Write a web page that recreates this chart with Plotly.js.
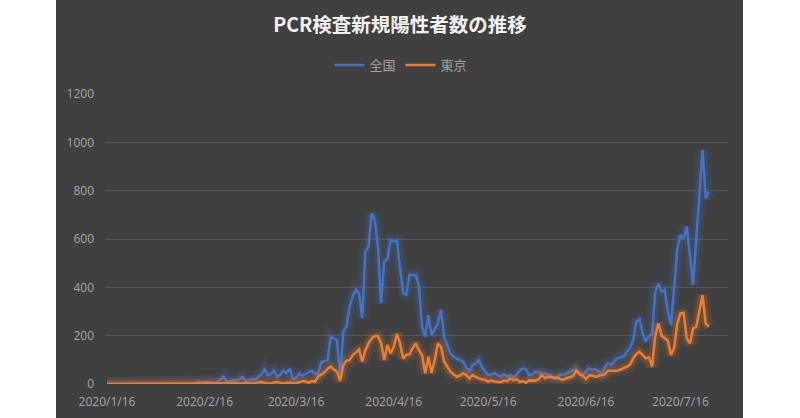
<!DOCTYPE html>
<html>
<head>
<meta charset="utf-8">
<script src="https://cdn.plot.ly/plotly-3.0.1.min.js"></script>
<style>html,body{margin:0;padding:0;background:#fff;}#chart{width:800px;height:418px;}</style>
</head>
<body>
<div id="chart"></div>
<script>
// Daily series starting 2020-01-16
const startDate = '2020-01-16';
const seriesNames = ['全国', '東京'];
const nationwide = [
  1,0,0,0,0,0,0,1, 1,1,0,1,1,2,3, 3,1,0,0,1,0,0, 0,1,0,0,1,0,3,
  8,6,6,8,5,4,10, 20,30,12,10,16,14,20,28,12,
  14,20,16,30,40,61,38,40,55,30,40,55,45,63,20,
  25,44,35,41,50,55,42,44,90,95,100,196,190,180,25,
  217,240,320,365,389,375,272,547,568,706,679,568,334,506,517,
  596,589,593,480,375,370,451,451,451,405,237,196,285,202,230,
  251,306,196,160,127,113,104,99,92,70,51,79,85,99,70,
  51,37,40,44,37,31,40,31,37,28,40,55,65,60,37,
  40,51,48,40,44,38,35,25,30,40,38,45,52,58,58,
  45,37,50,65,58,62,52,44,70,86,80,95,106,110,115,
  134,150,182,258,268,210,175,200,205,380,416,382,389,300,244,
  416,560,617,603,651,530,410,596,782,968,768,796
];
const tokyo = [
  0,0,0,0,0,0,0,0, 0,0,0,0,0,0,1, 0,0,0,0,0,0,0, 0,0,0,0,0,0,1,
  2,3,4,3,3,3,2, 3,3,2,1,3,1,1,3,1,
  3,0,3,6,8,5,4,2,6,8,5,2,5,4,2,
  4,7,12,10,5,12,10,30,40,47,63,72,60,51,13,
  78,97,99,120,130,143,92,140,168,189,199,199,168,99,161,
  127,154,207,168,106,120,123,148,168,140,120,44,113,46,99,
  168,154,92,70,51,40,30,35,44,38,23,37,30,23,20,
  17,10,15,10,10,7,14,12,23,15,20,8,12,5,15,
  13,14,20,37,25,30,28,25,26,20,18,25,28,35,55,
  40,35,20,35,35,30,33,35,40,55,55,58,55,60,65,
  72,80,106,124,134,120,106,110,72,200,251,200,190,180,120,
  150,250,292,295,189,168,230,237,300,368,251,237
];
const xTickVals = ['2020-01-16','2020-02-16','2020-03-16','2020-04-16','2020-05-16','2020-06-16','2020-07-16'];
const xTickText = ['2020/1/16','2020/2/16','2020/3/16','2020/4/16','2020/5/16','2020/6/16','2020/7/16'];
const yTickVals = [0,200,400,600,800,1000,1200];
const colors = ['#4472C4', '#ED7D31'];

function buildDates(n) {
  const out = [];
  const d0 = new Date(startDate + 'T00:00:00Z');
  for (let i = 0; i < n; i++) {
    const d = new Date(d0.getTime() + i * 86400000);
    out.push(d.toISOString().slice(0, 10));
  }
  return out;
}
const dates = buildDates(nationwide.length);

const traces = [];
[nationwide, tokyo].forEach((vals, k) => {
  // glow layers
  [[14, 0.09], [8, 0.17]].forEach(([w, o]) => {
    traces.push({x: dates, y: vals, type: 'scatter', mode: 'lines',
      line: {color: colors[k], width: w}, opacity: o,
      showlegend: false, hoverinfo: 'skip'});
  });
  traces.push({x: dates, y: vals, type: 'scatter', mode: 'lines', name: seriesNames[k],
    line: {color: colors[k], width: 2.5}});
});

const L = 105, R = 728, T = 94, B = 384, W = 800, H = 418;
const pw = R - L, ph = B - T;
const layout = {
  width: W, height: H,
  margin: {l: L, r: W - R, t: T, b: H - B, pad: 0},
  paper_bgcolor: '#ffffff',
  plot_bgcolor: 'rgba(0,0,0,0)',
  font: {family: '"Open Sans", "Noto Sans CJK JP", sans-serif', color: '#a6a6a6', size: 12},
  title: {text: 'PCR検査新規陽性者数の推移', x: 0.5, xref: 'container', xanchor: 'center',
    y: 1 - 25 / H, yref: 'container', yanchor: 'middle',
    font: {family: '"Noto Sans CJK JP", sans-serif', size: 19.5, color: '#f2f2f2', weight: 'bold'}},
  showlegend: true,
  legend: {orientation: 'h', x: (401 - L) / pw, xanchor: 'center', y: (B - 65) / ph, yanchor: 'middle',
    font: {family: '"Noto Sans CJK JP", sans-serif', size: 13, color: '#a0a0a0'},
    bgcolor: 'rgba(0,0,0,0)', traceorder: 'normal'},
  xaxis: {type: 'date', range: ['2020-01-15 08:45', '2020-07-31 02:00'],
    tickmode: 'array', tickvals: xTickVals, ticktext: xTickText,
    showgrid: false, zeroline: false, showline: false, ticks: '',
    tickfont: {size: 12, color: '#a6a6a6'}, ticklabelstandoff: 9},
  yaxis: {range: [0, 1200], tickmode: 'array', tickvals: yTickVals,
    showgrid: true, gridcolor: '#575757', gridwidth: 1, zeroline: false, showline: false, ticks: '',
    tickfont: {size: 12, color: '#a6a6a6'}, ticklabelstandoff: 10},
  shapes: [{type: 'rect', xref: 'paper', yref: 'paper', layer: 'below',
    x0: (56 - L) / pw, x1: (743 - L) / pw, y0: (B - H) / ph, y1: B / ph,
    fillcolor: '#404040', line: {width: 0}}]
};
Plotly.newPlot('chart', traces, layout, {displayModeBar: false, staticPlot: true});
</script>
</body>
</html>
